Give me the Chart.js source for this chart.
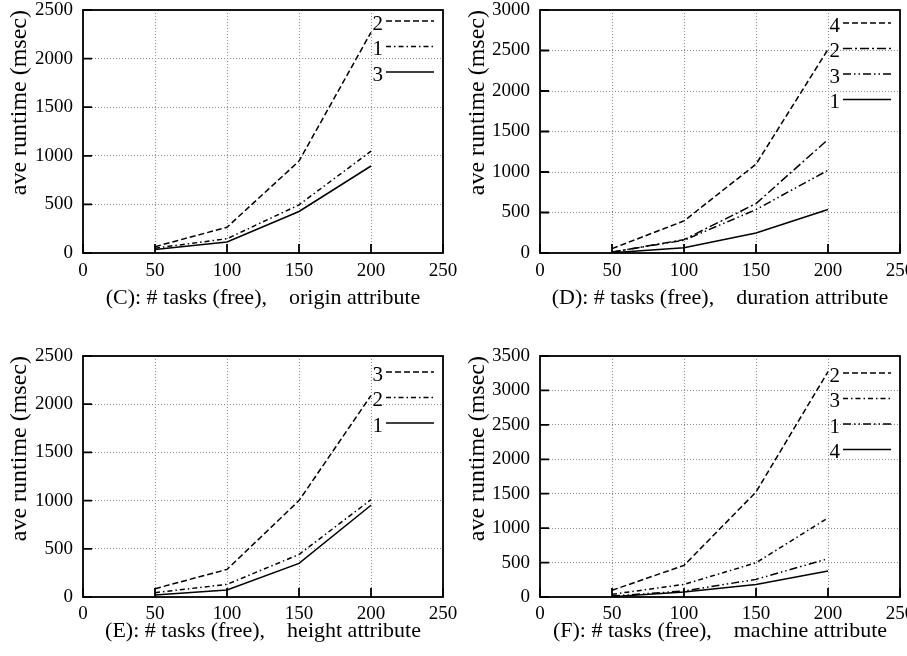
<!DOCTYPE html>
<html>
<head>
<meta charset="utf-8">
<script src="https://cdn.jsdelivr.net/npm/chart.js@4.4.0/dist/chart.umd.min.js"></script>
<style>
  html, body { margin: 0; padding: 0; background: #fff; overflow: hidden; }
  body { width: 907px; height: 656px; position: relative; }
  canvas { position: absolute; }
</style>
</head>
<body>
<canvas id="chartC" width="500" height="348"></canvas>
<canvas id="chartD" width="500" height="348"></canvas>
<canvas id="chartE" width="500" height="348"></canvas>
<canvas id="chartF" width="500" height="348"></canvas>
<script>
// x values (number of tasks)
const tasks = [50, 100, 150, 200]

// (C) origin attribute
const originNames = ['2', '1', '3']
const origin2 = [65, 265, 945, 2270]
const origin1 = [50, 147, 495, 1048]
const origin3 = [35, 113, 427, 895]

// (D) duration attribute
const durationNames = ['4', '2', '3', '1']
const duration4 = [54, 396, 1096, 2514]
const duration2 = [10, 165, 610, 1401]
const duration3 = [12, 157, 536, 1022]
const duration1 = [3, 66, 247, 536]

// (E) height attribute
const heightNames = ['3', '2', '1']
const height3 = [86, 286, 1000, 2090]
const height2 = [45, 131, 441, 1010]
const height1 = [21, 72, 348, 952]

// (F) machine attribute
const machineNames = ['2', '3', '1', '4']
const machine2 = [97, 459, 1525, 3272]
const machine3 = [39, 183, 497, 1149]
const machine1 = [14, 87, 256, 555]
const machine4 = [5, 72, 183, 376]

const yMaxC = 2500
const yMaxD = 3000
const yMaxE = 2500
const yMaxF = 3500

// line styles
const DASHED = [6, 3]
const DASHDOT = [5, 3, 1.5, 3]
const LONGDASHDOT = [9, 3, 2, 3]
const DASHDOTDOT = [8, 3, 1.5, 3, 1.5, 3]
const SOLID = []

Chart.defaults.font.family = "'Liberation Serif', 'Times New Roman', serif"
Chart.defaults.color = '#000'

const framePlugin = {
    id: 'frame',
    afterDatasetsDraw(chart, args, opts) {
        const {ctx, chartArea: a, scales: {x, y}} = chart
        ctx.save()
        ctx.strokeStyle = '#000'
        ctx.setLineDash([])
        ctx.lineWidth = 1.8
        ctx.strokeRect(a.left, a.top, a.width, a.height)

        // inward tick marks
        ctx.beginPath()
        x.ticks.forEach(t => {
            const px = x.getPixelForValue(t.value)
            ctx.moveTo(px, a.bottom)
            ctx.lineTo(px, a.bottom - 9)
        })
        y.ticks.forEach(t => {
            const py = y.getPixelForValue(t.value)
            ctx.moveTo(a.left, py)
            ctx.lineTo(a.left + 9, py)
        })
        ctx.stroke()

        // key, top right inside the plot
        ctx.font = "21px 'Liberation Serif', serif"
        ctx.textAlign = 'right'
        ctx.textBaseline = 'middle'
        ctx.fillStyle = '#000'
        ctx.lineWidth = 1.5
        chart.data.datasets.forEach((ds, i) => {
            const yy = a.top + opts.keyTop + i * 25.5
            ctx.fillText(ds.label, a.right - 60, yy + 3)
            ctx.setLineDash(ds.borderDash)
            ctx.beginPath()
            ctx.moveTo(a.right - 57, yy)
            ctx.lineTo(a.right - 9, yy)
            ctx.stroke()
        })
        ctx.restore()
    }
}

const makeChart = (id, p) => {
    const canvas = document.getElementById(id)
    canvas.style.left = p.left + 'px'
    canvas.style.top = p.top + 'px'

    const datasets = p.series.map((values, i) => ({
        label: p.names[i],
        data: values.map((v, j) => ({x: tasks[j], y: v})),
        borderColor: '#000',
        borderWidth: 1.5,
        borderDash: p.dashes[i],
        pointRadius: 0,
        tension: 0,
        fill: false
    }))

    const config = {
        type: 'line',
        data: {datasets: datasets},
        options: {
            responsive: false,
            animation: false,
            layout: {padding: {left: 0, top: p.padTop, right: p.padRight, bottom: 0}},
            plugins: {
                legend: {display: false},
                tooltip: {enabled: false},
                frame: {keyTop: p.keyTop}
            },
            scales: {
                x: {
                    type: 'linear',
                    min: 0,
                    max: 250,
                    ticks: {stepSize: 50, padding: p.xTickPad, font: {size: 19}, maxRotation: 0,
                        callback: v => String(v)},
                    grid: {color: '#8a8a8a', lineWidth: 1, drawTicks: false},
                    border: {display: false, dash: [1, 2]},
                    title: {display: true, text: p.xTitle, font: {size: 22},
                        padding: {top: 0, bottom: p.xTitlePad}},
                    afterFit: s => { s.height = p.xAxisHeight }
                },
                y: {
                    min: 0,
                    max: p.yMax,
                    ticks: {stepSize: 500, padding: 10, font: {size: 19},
                        callback: v => String(v)},
                    grid: {color: '#8a8a8a', lineWidth: 1, drawTicks: false},
                    border: {display: false, dash: [1, 2]},
                    title: {display: true, text: 'ave runtime (msec)', align: 'end', font: {size: 24},
                        padding: {top: p.yTitlePad, bottom: 0}},
                    afterFit: s => { s.width = p.yAxisWidth }
                }
            }
        },
        plugins: [framePlugin]
    }

    return new Chart(canvas, config)
}

makeChart('chartC', {
    left: 0, top: -20, padTop: 30, padRight: 57, yAxisWidth: 83, xAxisHeight: 75,
    xTickPad: 7, xTitlePad: 17, yTitlePad: 5, keyTop: 11,
    yMax: yMaxC, names: originNames, series: [origin2, origin1, origin3],
    dashes: [DASHED, DASHDOT, SOLID],
    xTitle: '(C): # tasks (free),    origin attribute'
})

makeChart('chartD', {
    left: 453, top: -20, padTop: 30, padRight: 53, yAxisWidth: 87, xAxisHeight: 75,
    xTickPad: 7, xTitlePad: 17, yTitlePad: 10, keyTop: 13,
    yMax: yMaxD, names: durationNames, series: [duration4, duration2, duration3, duration1],
    dashes: [DASHED, LONGDASHDOT, DASHDOTDOT, SOLID],
    xTitle: '(D): # tasks (free),    duration attribute'
})

makeChart('chartE', {
    left: 0, top: 308, padTop: 48, padRight: 57, yAxisWidth: 83, xAxisHeight: 59,
    xTickPad: 5.5, xTitlePad: 12, yTitlePad: 5, keyTop: 16,
    yMax: yMaxE, names: heightNames, series: [height3, height2, height1],
    dashes: [DASHED, DASHDOT, SOLID],
    xTitle: '(E): # tasks (free),    height attribute'
})

makeChart('chartF', {
    left: 453, top: 308, padTop: 48, padRight: 53, yAxisWidth: 87, xAxisHeight: 59,
    xTickPad: 5.5, xTitlePad: 12, yTitlePad: 10, keyTop: 17,
    yMax: yMaxF, names: machineNames, series: [machine2, machine3, machine1, machine4],
    dashes: [DASHED, DASHDOT, DASHDOTDOT, SOLID],
    xTitle: '(F): # tasks (free),    machine attribute'
})
</script>
</body>
</html>
